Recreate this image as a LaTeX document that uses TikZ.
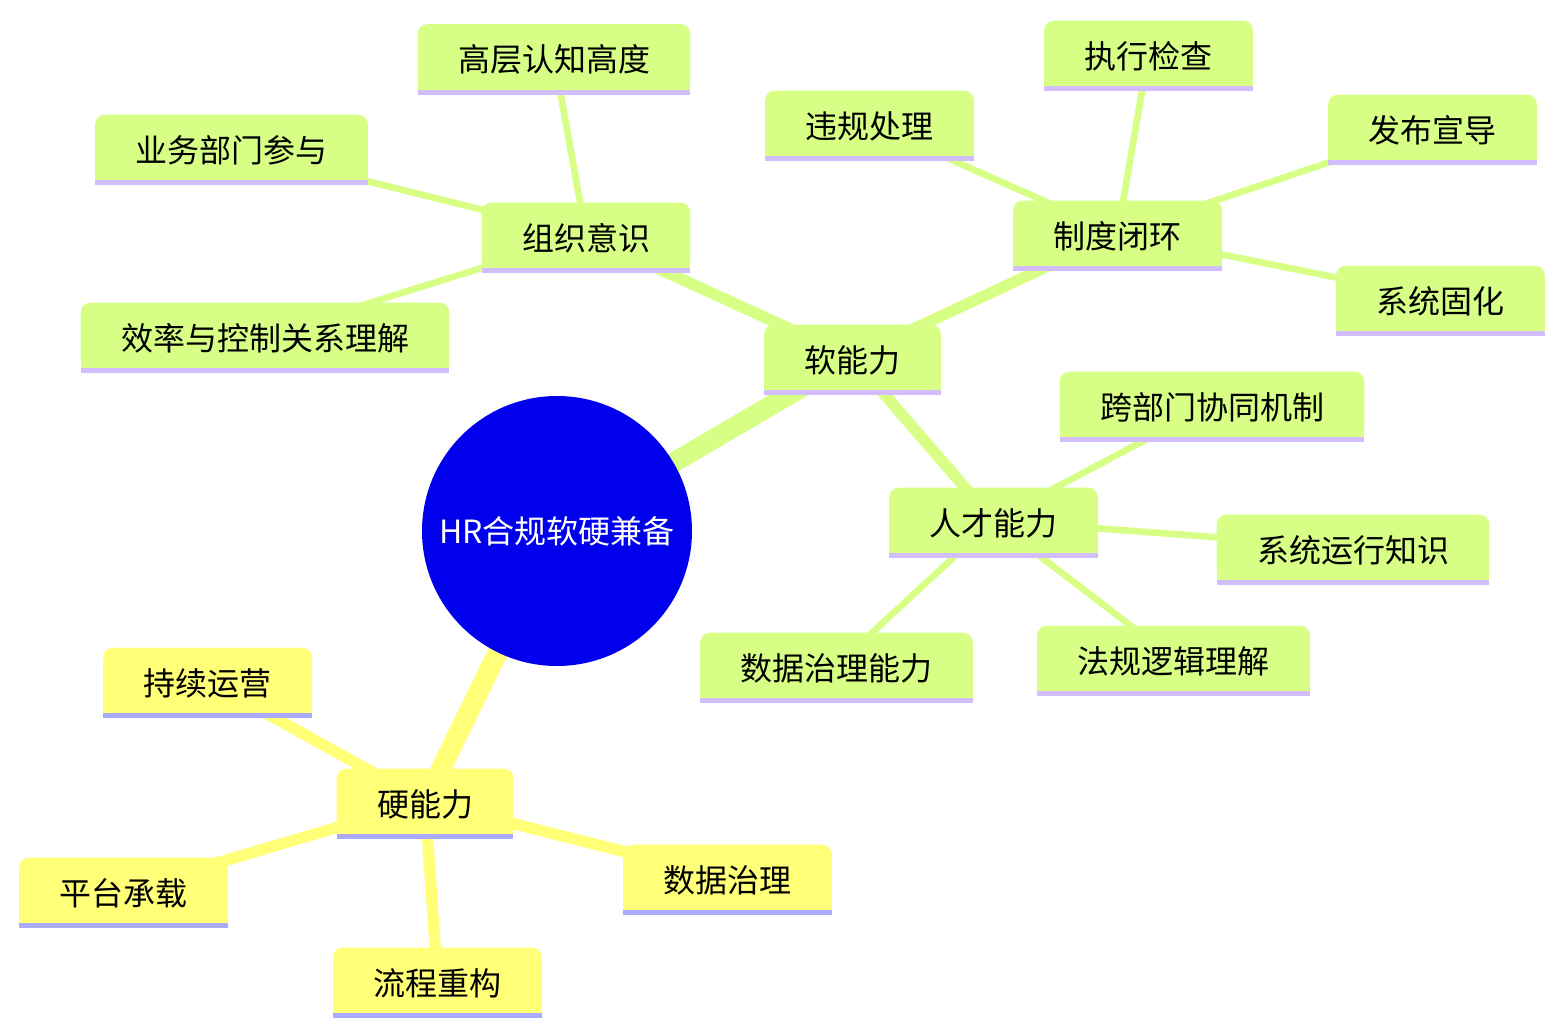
\documentclass[tikz,border=0pt]{standalone}
\usepackage{fontspec}
\newfontfamily\cjk{Noto Sans CJK SC}
\usetikzlibrary{backgrounds}
\definecolor{softfill}{HTML}{D7FF86}
\definecolor{softline}{HTML}{D2BEFF}
\definecolor{hardfill}{HTML}{FFFF78}
\definecolor{hardline}{HTML}{AAAAFF}
\definecolor{rootblue}{HTML}{0000EC}
\tikzset{
  box/.style={inner xsep=30pt, inner ysep=0pt, minimum height=48.75pt,
    text height=24pt, text depth=2pt,
    font=\cjk\fontsize{24pt}{28pt}\selectfont, text=black},
  rootnode/.style={circle, fill=rootblue, minimum size=202.5pt, inner sep=0pt,
    font=\cjk\fontsize{24pt}{28pt}\selectfont, text=white},
  e1/.style={line width=15pt},
  e2/.style={line width=8.5pt},
  e3/.style={line width=5pt},
}
\newcommand{\boxshape}[3]{%
  \fill[#2, rounded corners=7pt] (#1.south west) rectangle (#1.north east);
  \fill[#2] (#1.south west) rectangle (#1.east);
  \fill[#3] (#1.south west) rectangle ([yshift=-3.6pt]#1.south east);
}
\begin{document}
\begin{tikzpicture}[x=0.75pt, y=-0.75pt]
\useasboundingbox (0,0) rectangle (1564,1035);
% nodes
\node[rootnode] (root) at (557,531) {HR合规软硬兼备};
\node[box] (soft) at (852.5,357.5) {软能力};
\node[box] (org) at (586,235.5) {组织意识};
\node[box] (gaoceng) at (554,57) {高层认知高度};
\node[box] (yewu) at (231.5,147.5) {业务部门参与};
\node[box] (xiaolv) at (265,335.5) {效率与控制关系理解};
\node[box] (zhidu) at (1117.5,233.5) {制度闭环};
\node[box] (weigui) at (869.5,123.5) {违规处理};
\node[box] (zhixing) at (1148.5,53.5) {执行检查};
\node[box] (fabu) at (1432.5,127.5) {发布宣导};
\node[box] (guhua) at (1440.5,298.5) {系统固化};
\node[box] (rencai) at (993.5,520.5) {人才能力};
\node[box] (kuabu) at (1212,404.5) {跨部门协同机制};
\node[box] (yunxing) at (1353,547.5) {系统运行知识};
\node[box] (fagui) at (1173.5,658.5) {法规逻辑理解};
\node[box] (shujunl) at (836.5,665.5) {数据治理能力};
\node[box] (hard) at (425,801.5) {硬能力};
\node[box] (chixu) at (207.5,680.5) {持续运营};
\node[box] (pingtai) at (123.5,890.5) {平台承载};
\node[box] (liucheng) at (437.5,980.5) {流程重构};
\node[box] (shuju) at (727.5,877.5) {数据治理};
\begin{scope}[on background layer]
  % edges
  \draw[e1, softfill] (root.center) -- (soft.center);
  \draw[e1, hardfill] (root.center) -- (hard.center);
  \draw[e2, softfill] (soft.center) -- (org.center);
  \draw[e2, softfill] (soft.center) -- (zhidu.center);
  \draw[e2, softfill] (soft.center) -- (rencai.center);
  \draw[e3, softfill] (org.center) -- (gaoceng.center);
  \draw[e3, softfill] (org.center) -- (yewu.center);
  \draw[e3, softfill] (org.center) -- (xiaolv.center);
  \draw[e3, softfill] (zhidu.center) -- (weigui.center);
  \draw[e3, softfill] (zhidu.center) -- (zhixing.center);
  \draw[e3, softfill] (zhidu.center) -- (fabu.center);
  \draw[e3, softfill] (zhidu.center) -- (guhua.center);
  \draw[e3, softfill] (rencai.center) -- (kuabu.center);
  \draw[e3, softfill] (rencai.center) -- (yunxing.center);
  \draw[e3, softfill] (rencai.center) -- (fagui.center);
  \draw[e3, softfill] (rencai.center) -- (shujunl.center);
  \draw[e2, hardfill] (hard.center) -- (chixu.center);
  \draw[e2, hardfill] (hard.center) -- (pingtai.center);
  \draw[e2, hardfill] (hard.center) -- (liucheng.center);
  \draw[e2, hardfill] (hard.center) -- (shuju.center);
  % shapes
  \boxshape{soft}{softfill}{softline}
  \boxshape{org}{softfill}{softline}
  \boxshape{gaoceng}{softfill}{softline}
  \boxshape{yewu}{softfill}{softline}
  \boxshape{xiaolv}{softfill}{softline}
  \boxshape{zhidu}{softfill}{softline}
  \boxshape{weigui}{softfill}{softline}
  \boxshape{zhixing}{softfill}{softline}
  \boxshape{fabu}{softfill}{softline}
  \boxshape{guhua}{softfill}{softline}
  \boxshape{rencai}{softfill}{softline}
  \boxshape{kuabu}{softfill}{softline}
  \boxshape{yunxing}{softfill}{softline}
  \boxshape{fagui}{softfill}{softline}
  \boxshape{shujunl}{softfill}{softline}
  \boxshape{hard}{hardfill}{hardline}
  \boxshape{chixu}{hardfill}{hardline}
  \boxshape{pingtai}{hardfill}{hardline}
  \boxshape{liucheng}{hardfill}{hardline}
  \boxshape{shuju}{hardfill}{hardline}
\end{scope}
\end{tikzpicture}
\end{document}
